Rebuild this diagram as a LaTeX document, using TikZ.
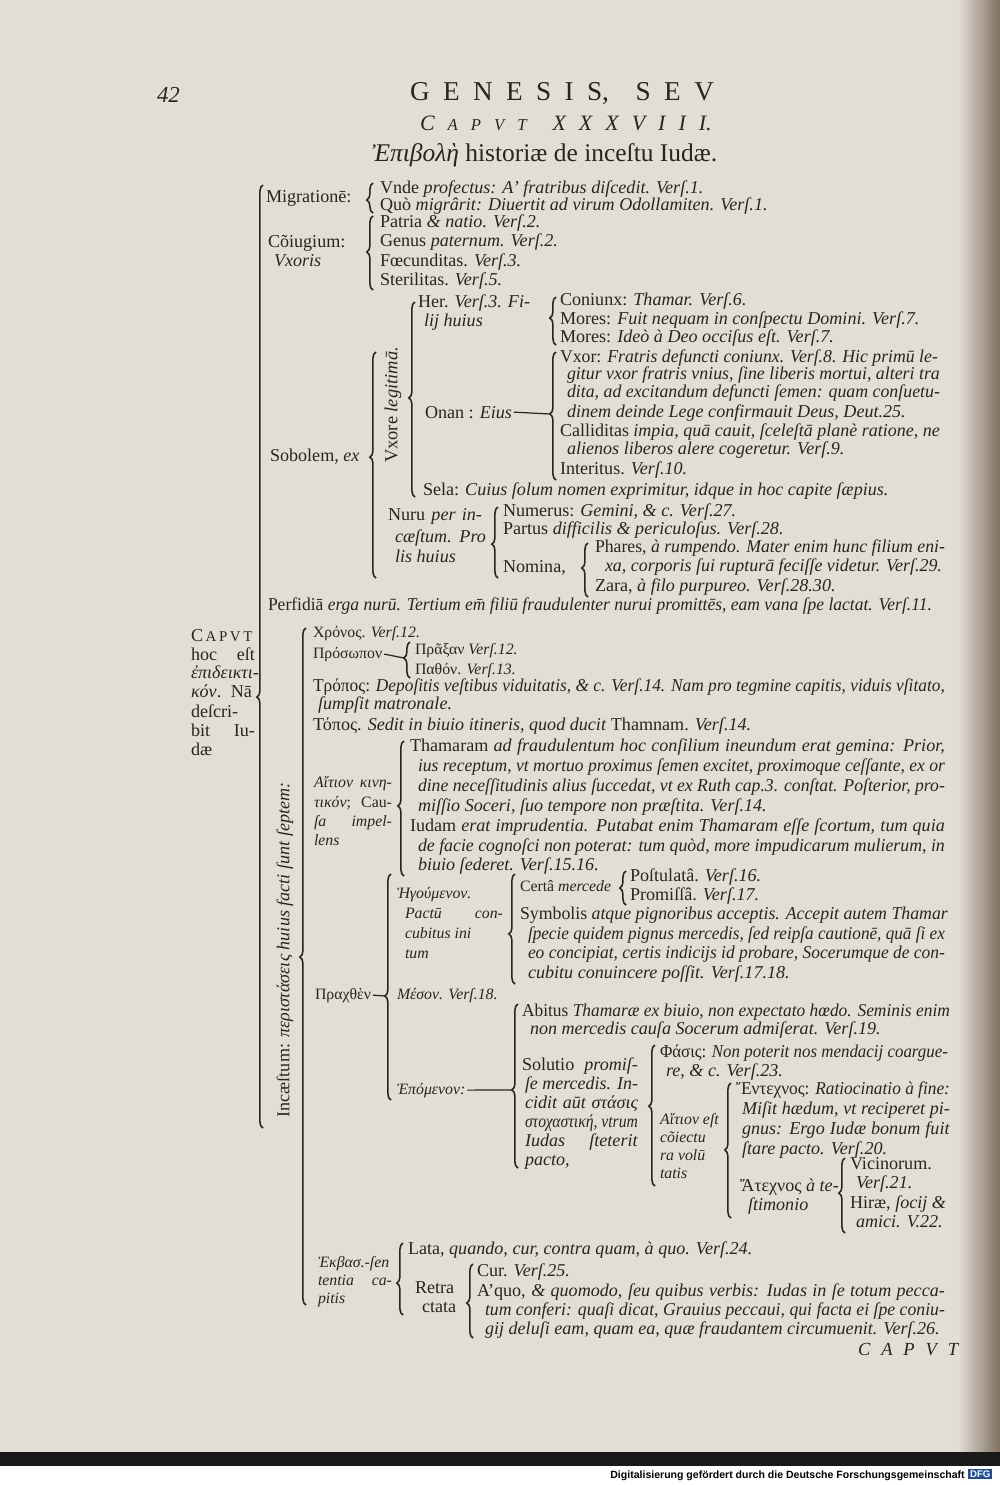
\documentclass[tikz,border=0pt]{standalone}
\usepackage{fontspec}
\setmainfont{Liberation Serif}
\newfontfamily\footfont{Liberation Sans}
\usepackage{graphicx}
\usepackage{xcolor}
\definecolor{paper}{RGB}{226,222,213}
\definecolor{ink}{RGB}{42,36,30}
\definecolor{pageedge}{RGB}{128,112,96}
\definecolor{dfgblue}{RGB}{28,78,158}
\usetikzlibrary{decorations.pathreplacing}
\tikzset{
  ln/.style={anchor=base west, inner sep=0pt, outer sep=0pt, text=ink, font=\fontsize{10.3}{12}\selectfont},
  sm/.style={ln, font=\fontsize{9}{11}\selectfont},
  brc/.style={draw=ink, line width=0.9pt, decorate, decoration={brace, amplitude=3.5pt, aspect=#1}},
  rule/.style={draw=ink, line width=0.7pt},
}
% justified line: [style]{name}{x}{y}{right end}{text}
\newsavebox\jbox
\newcommand\fitbox[2]{\sbox\jbox{#2}\ifdim\wd\jbox>#1\relax\resizebox{#1}{\height}{\usebox\jbox}\else\makebox[#1][s]{#2}\fi}
\newcommand\jline[6][ln]{\pgfmathsetmacro\jw{(#5-#3)*0.569}\node[#1] (#2) at (#3,#4) {\fitbox{\jw pt}{#6}};}

\begin{document}
\begin{tikzpicture}[x=0.02cm, y=-0.02cm]
\fill[paper] (0,0) rectangle (1000,1452);
\shade[left color=paper, right color=pageedge] (958,0) rectangle (1000,1452);
\fill[black!90] (0,1452) rectangle (1000,1466);
\fill[white] (0,1466) rectangle (1000,1485);
\useasboundingbox (0,0) rectangle (1000,1485);

% head of the page
\node[ln, font=\fontsize{13}{14}\selectfont\itshape] (folio) at (157,102) {42};
\node[ln, font=\fontsize{15.5}{17}\selectfont] (running) at (410,100) {\makebox[173pt][s]{G\hfill E\hfill N\hfill E\hfill S\hfill I\hfill S,\hfill\hfill S\hfill E\hfill V}};
\node[ln, font=\fontsize{12.5}{14}\selectfont\itshape] (caput) at (420,130) {\makebox[166pt][s]{C\hfill{\fontsize{9.5}{10}\selectfont A}\hfill{\fontsize{9.5}{10}\selectfont P}\hfill{\fontsize{9.5}{10}\selectfont V}\hfill{\fontsize{9.5}{10}\selectfont T}\hfill\hfill X\hfill X\hfill X\hfill V\hfill I\hfill I\hfill I.}};
\node[ln, font=\fontsize{14.5}{16}\selectfont] (title) at (372,161) {\textit{Ἐπιβολὴ} historiæ de inceſtu Iudæ.};

% main brace
\node[ln] (cap1) at (191,641) {\makebox[35pt][s]{C\hfill{\fontsize{8.5}{9}\selectfont A}\hfill{\fontsize{8.5}{9}\selectfont P}\hfill{\fontsize{8.5}{9}\selectfont V}\hfill{\fontsize{8.5}{9}\selectfont T}}};
\jline{cap2}{191}{660}{255}{hoc eſt}
\node[ln] (cap3) at (191,678) {\textit{ἐπιδεικτι-}};
\jline{cap4}{191}{697}{252}{\textit{κόν}. Nā}
\node[ln] (cap5) at (191,717) {deſcri-};
\jline{cap6}{191}{736}{255}{bit Iu-}
\node[ln] (cap7) at (191,755) {dæ};
\coordinate (mainB) at (263,1128); \coordinate (mainT) at (263,185);
\draw[brc=0.457] (mainB) -- (mainT);

\node[ln] (migr) at (266,202) {Migrationē:};
\node[ln] (coiug) at (268,247) {Cõiugium:};
\node[ln] (vxoris) at (274,266) {\textit{Vxoris}};
\node[ln] (sobol) at (270,461) {Sobolem, \textit{ex}};
\jline{perf}{268}{610}{932}{Perfidiā \textit{erga nurū. Tertium em̄ filiū fraudulenter nurui promittēs, eam vana ſpe lactat. Verſ.11.}}
\node[ln, anchor=center, rotate=90] (incaest) at (285,950) {Incæſtum: \textit{περιστάσεις huius facti ſunt ſeptem:}};

% Migratione, Coiugium
\coordinate (migrB) at (373,213); \coordinate (migrT) at (373,183);
\draw[brc=0.433] (migrB) -- (migrT);
\node[ln] (vnde) at (380,193) {Vnde \textit{profectus: A' fratribus diſcedit. Verſ.1.}};
\node[ln] (quo) at (380,210) {Quò \textit{migrârit: Diuertit ad virum Odollamiten. Verſ.1.}};
\coordinate (coiugB) at (373,290); \coordinate (coiugT) at (373,216);
\draw[brc=0.514] (coiugB) -- (coiugT);
\node[ln] (patria) at (380,227) {Patria \textit{\& natio. Verſ.2.}};
\node[ln] (genus) at (380,246) {Genus \textit{paternum. Verſ.2.}};
\node[ln] (foec) at (380,266) {Fœcunditas. \textit{Verſ.3.}};
\node[ln] (steril) at (380,285) {Sterilitas. \textit{Verſ.5.}};

% Sobolem
\coordinate (sobolB) at (376,578); \coordinate (sobolT) at (376,352);
\draw[brc=0.535] (sobolB) -- (sobolT);
\node[ln, anchor=center, rotate=90, font=\fontsize{10.5}{12}\selectfont] (vxore) at (393,405) {Vxore \textit{legitimā.}};
\coordinate (vxoreB) at (415,497); \coordinate (vxoreT) at (415,302);
\draw[brc=0.508] (vxoreB) -- (vxoreT);
\node[ln] (her) at (418,307) {Her. \textit{Verſ.3. Fi-}};
\node[ln] (lij) at (424,326) {\textit{lij huius}};
\coordinate (herB) at (556,345); \coordinate (herT) at (556,297);
\draw[brc=0.5625] (herB) -- (herT);
\node[ln] (coniunx) at (560,305) {Coniunx: \textit{Thamar. Verſ.6.}};
\node[ln] (mores1) at (560,324) {Mores: \textit{Fuit nequam in conſpectu Domini. Verſ.7.}};
\node[ln] (mores2) at (560,342) {Mores: \textit{Ideò à Deo occiſus eſt. Verſ.7.}};
\node[ln] (onan) at (425,418) {Onan : \textit{Eius}};
\coordinate (onanB) at (556,480); \coordinate (onanT) at (556,352);
\coordinate (onanTip) at (550,414);
\draw[brc=0.516] (onanB) -- (onanT);
\draw[rule] (onan.east) ++(2,0) -- (onanTip);
\jline{vxor}{560}{362}{938}{Vxor: \textit{Fratris defuncti coniunx. Verſ.8. Hic primū le-}}
\jline{gitur}{567}{379}{940}{\textit{gitur vxor fratris vnius, ſine liberis mortui, alteri tra}}
\jline{dita}{567}{397}{940}{\textit{dita, ad excitandum defuncti ſemen: quam conſuetu-}}
\node[ln] (dinem) at (567,417) {\textit{dinem deinde Lege confirmauit Deus, Deut.25.}};
\jline{callid}{560}{436}{940}{Calliditas \textit{impia, quā cauit, ſceleſtā planè ratione, ne}}
\node[ln] (alienos) at (567,454) {\textit{alienos liberos alere cogeretur. Verſ.9.}};
\node[ln] (interitus) at (560,474) {Interitus. \textit{Verſ.10.}};
\node[ln] (sela) at (423,495) {Sela: \textit{Cuius ſolum nomen exprimitur, idque in hoc capite ſæpius.}};

% Nuru per incaestum
\jline{nuru}{388}{520}{482}{Nuru \textit{per in-}}
\jline{caest}{395}{542}{486}{\textit{cæſtum. Pro}}
\node[ln] (prolis) at (395,562) {\textit{lis huius}};
\coordinate (nuruB) at (498,578); \coordinate (nuruT) at (498,507);
\draw[brc=0.478] (nuruB) -- (nuruT);
\node[ln] (numerus) at (503,516) {Numerus: \textit{Gemini, \& c. Verſ.27.}};
\node[ln] (partus) at (503,534) {Partus \textit{difficilis \& periculoſus. Verſ.28.}};
\node[ln] (nomina) at (503,572) {Nomina,};
\coordinate (nominaB) at (588,597); \coordinate (nominaT) at (588,543);
\draw[brc=0.537] (nominaB) -- (nominaT);
\jline{phares}{595}{552}{945}{Phares, \textit{à rumpendo. Mater enim hunc filium eni-}}
\jline{xa}{605}{571}{942}{\textit{xa, corporis ſui rupturā feciſſe videtur. Verſ.29.}}
\node[ln] (zara) at (595,591) {Zara, \textit{à filo purpureo. Verſ.28.30.}};

% Incaestum
\coordinate (incB) at (306,1305); \coordinate (incT) at (306,628);
\draw[brc=0.514] (incB) -- (incT);
\node[sm] (chronos) at (313,637) {Χρόνος. \textit{Verſ.12.}};
\node[sm] (prosopon) at (313,658) {Πρόσωπον};
\coordinate (prosB) at (410,678); \coordinate (prosT) at (410,642);
\coordinate (prosTip) at (404,658);
\draw[brc=0.556] (prosB) -- (prosT);
\draw[rule] (prosopon.east) ++(2,0) -- (prosTip);
\node[sm] (praxan) at (415,654) {Πρᾶξαν \textit{Verſ.12.}};
\node[sm] (pathon) at (415,674) {Παθόν. \textit{Verſ.13.}};
\jline{tropos}{313}{691}{945}{Τρόπος: \textit{Depoſitis veſtibus viduitatis, \& c. Verſ.14. Nam pro tegmine capitis, viduis vſitato,}}
\node[ln] (sumpsit) at (318,709) {\textit{ſumpſit matronale.}};
\node[ln] (topos) at (313,730) {Τόπος. \textit{Sedit in biuio itineris, quod ducit} Thamnam. \textit{Verſ.14.}};

% Aition kinetikon
\jline[sm]{aition}{314}{787}{392}{\textit{Αἴτιον κινη-}}
\jline[sm]{kinet}{314}{807}{392}{\textit{τικόν}; Cau-}
\jline[sm]{impel}{314}{826}{392}{\textit{ſa impel-}}
\node[sm] (lens) at (314,845) {\textit{lens}};
\coordinate (aitB) at (404,876); \coordinate (aitT) at (404,741);
\draw[brc=0.519] (aitB) -- (aitT);
\jline{thamaram}{410}{751}{945}{Thamaram \textit{ad fraudulentum hoc conſilium ineundum erat gemina: Prior,}}
\jline{ius}{418}{771}{945}{\textit{ius receptum, vt mortuo proximus ſemen excitet, proximoque ceſſante, ex or}}
\jline{dine}{418}{791}{945}{\textit{dine neceſſitudinis alius ſuccedat, vt ex Ruth cap.3. conſtat. Poſterior, pro-}}
\node[ln] (missio) at (418,811) {\textit{miſſio Soceri, ſuo tempore non præſtita. Verſ.14.}};
\jline{iudam}{410}{831}{945}{Iudam \textit{erat imprudentia. Putabat enim Thamaram eſſe ſcortum, tum quia}}
\jline{facie}{418}{851}{945}{\textit{de facie cognoſci non poterat: tum quòd, more impudicarum mulierum, in}}
\node[ln] (biuio) at (418,870) {\textit{biuio ſederet. Verſ.15.16.}};

% Prachthen
\node[sm] (prachth) at (315,999) {Πραχθὲν};
\coordinate (prachB) at (391,1100); \coordinate (prachT) at (391,874);
\coordinate (prachTip) at (385,996);
\draw[brc=0.46] (prachB) -- (prachT);
\draw[rule] (prachth.east) ++(2,0) -- (prachTip);
\node[sm] (hegum) at (397,898) {\textit{Ἡγούμενον.}};
\jline[sm]{pactu}{405}{918}{503}{\textit{Pactū con-}}
\node[sm] (cubitus) at (405,938) {\textit{cubitus ini}};
\node[sm] (tum) at (405,958) {\textit{tum}};
\coordinate (hegB) at (515,984); \coordinate (hegT) at (515,874);
\draw[brc=0.455] (hegB) -- (hegT);
\node[sm] (certa) at (520,891) {Certâ \textit{mercede}};
\coordinate (certaB) at (626,905); \coordinate (certaT) at (626,871);
\draw[brc=0.5] (certaB) -- (certaT);
\node[ln] (postul) at (630,881) {Poſtulatâ. \textit{Verſ.16.}};
\node[ln] (promis) at (630,900) {Promiſſâ. \textit{Verſ.17.}};
\jline{symb}{520}{919}{948}{Symbolis \textit{atque pignoribus acceptis. Accepit autem Thamar}}
\jline{specie}{528}{939}{945}{\textit{ſpecie quidem pignus mercedis, ſed reipſa cautionē, quā ſi ex}}
\jline{eocon}{528}{958}{945}{\textit{eo concipiat, certis indicijs id probare, Socerumque de con-}}
\node[ln] (cubitu) at (528,978) {\textit{cubitu conuincere poſſit. Verſ.17.18.}};
\node[sm] (meson) at (397,999) {\textit{Μέσον. Verſ.18.}};

% Epomenon
\node[sm] (epom) at (397,1094) {\textit{Ἑπόμενον:}};
\coordinate (epomB) at (518,1168); \coordinate (epomT) at (518,1004);
\coordinate (epomTip) at (512,1090);
\draw[brc=0.476] (epomB) -- (epomT);
\draw[rule] (epom.east) ++(2,0) -- (epomTip);
\jline{abitus}{522}{1016}{950}{Abitus \textit{Thamaræ ex biuio, non expectato hœdo. Seminis enim}}
\node[ln] (nonmerc) at (530,1034) {\textit{non mercedis cauſa Socerum admiſerat. Verſ.19.}};
\jline{solutio}{522}{1070}{638}{Solutio \textit{promiſ-}}
\jline{semerc}{525}{1089}{638}{\textit{ſe mercedis. In-}}
\jline{cidit}{525}{1108}{638}{\textit{cidit aūt στάσις}}
\jline{stoch}{525}{1127}{638}{\textit{στοχαστική, vtrum}}
\jline{iudas}{525}{1146}{638}{\textit{Iudas ſteterit}}
\node[ln] (pacto) at (525,1165) {\textit{pacto,}};
\coordinate (solB) at (655,1186); \coordinate (solT) at (655,1045);
\draw[brc=0.567] (solB) -- (solT);
\jline{phasis}{660}{1057}{948}{Φάσις: \textit{Non poterit nos mendacij coargue-}}
\node[ln] (recoarg) at (666,1076) {\textit{re, \& c. Verſ.23.}};
\node[sm] (aitest) at (660,1124) {\textit{Αἴτιον eſt}};
\node[sm] (coiect) at (660,1142) {\textit{cõiectu}};
\node[sm] (volu) at (660,1160) {\textit{ra volū}};
\node[sm] (tatis) at (660,1178) {\textit{tatis}};
\coordinate (aitestB) at (731,1218); \coordinate (aitestT) at (731,1083);
\draw[brc=0.504] (aitestB) -- (aitestT);
\jline{entech}{736}{1094}{950}{Ἔντεχνος: \textit{Ratiocinatio à fine:}}
\jline{misit}{742}{1114}{950}{\textit{Miſit hædum, vt reciperet pi-}}
\jline{gnus}{742}{1134}{950}{\textit{gnus: Ergo Iudæ bonum fuit}}
\node[ln] (stare) at (742,1154) {\textit{ſtare pacto. Verſ.20.}};
\node[ln] (atech) at (740,1191) {Ἄτεχνος \textit{à te-}};
\node[ln] (testim) at (748,1210) {\textit{ſtimonio}};
\coordinate (atechB) at (845,1233); \coordinate (atechT) at (845,1158);
\draw[brc=0.533] (atechB) -- (atechT);
\node[ln] (vicin) at (850,1169) {Vicinorum.};
\node[ln] (vers21) at (856,1188) {\textit{Verſ.21.}};
\node[ln] (hirae) at (850,1208) {Hiræ, \textit{ſocij \&}};
\node[ln] (amici) at (856,1227) {\textit{amici. V.22.}};

% Ekbasis
\jline[sm]{ekbas}{318}{1267}{392}{\textit{Ἐκβασ.-ſen}}
\jline[sm]{tentia}{318}{1285}{392}{\textit{tentia ca-}}
\node[sm] (pitis) at (318,1303) {\textit{pitis}};
\coordinate (ekbB) at (403,1315); \coordinate (ekbT) at (403,1243);
\draw[brc=0.444] (ekbB) -- (ekbT);
\node[ln] (lata) at (408,1254) {Lata, \textit{quando, cur, contra quam, à quo. Verſ.24.}};
\node[ln] (retra) at (415,1293) {Retra};
\node[ln] (ctata) at (422,1312) {ctata};
\coordinate (retraB) at (473,1338); \coordinate (retraT) at (473,1264);
\draw[brc=0.473] (retraB) -- (retraT);
\node[ln] (cur) at (477,1276) {Cur. \textit{Verſ.25.}};
\jline{aquo}{477}{1296}{945}{A'quo, \textit{\& quomodo, ſeu quibus verbis: Iudas in ſe totum pecca-}}
\jline{tumconf}{485}{1315}{945}{\textit{tum conferi: quaſi dicat, Grauius peccaui, qui facta ei ſpe coniu-}}
\node[ln] (gij) at (485,1334) {\textit{gij deluſi eam, quam ea, quæ fraudantem circumuenit. Verſ.26.}};
\node[ln, font=\fontsize{10.5}{12}\selectfont\itshape] (custos) at (858,1355) {\makebox[57pt][s]{C\hfill A\hfill P\hfill V\hfill T}};

% footer strip
\node[anchor=base west, inner sep=0pt, font=\footfont\bfseries\fontsize{6}{7}\selectfont] (footer) at (610,1478) {Digitalisierung gefördert durch die Deutsche Forschungsgemeinschaft ·};
\node[anchor=west, fill=dfgblue, text=white, inner sep=1pt, font=\footfont\bfseries\fontsize{5.5}{6}\selectfont] (dfg) at (968,1474) {DFG};
\end{tikzpicture}
\end{document}
